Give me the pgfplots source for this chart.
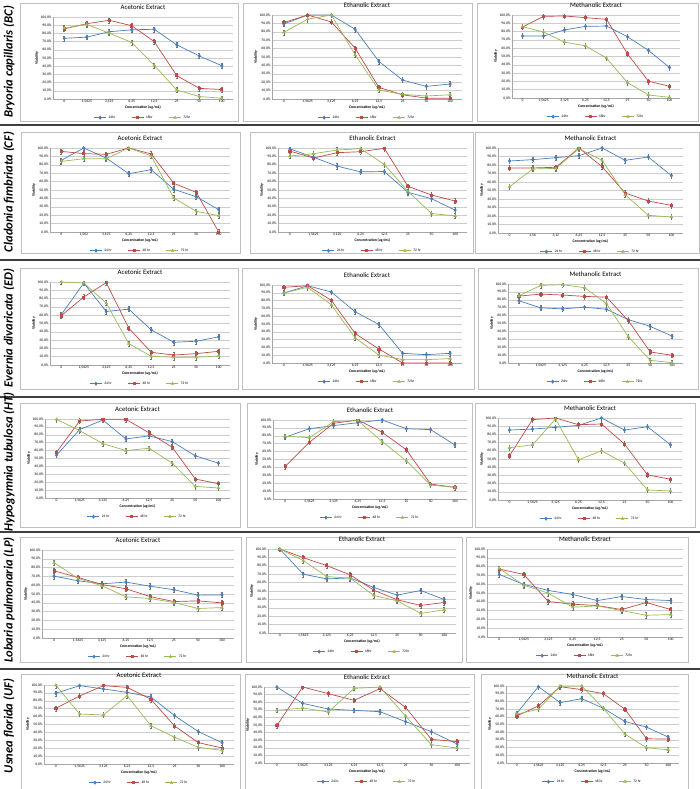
\documentclass[border=0pt]{standalone}
\usepackage{pgfplots}
\pgfplotsset{compat=1.18}
\usepackage{pgfplotstable}
\usepackage{fontspec}
\setmainfont{Carlito}
\definecolor{cA}{HTML}{4A7EBB}
\definecolor{cB}{HTML}{BE4B48}
\definecolor{cC}{HTML}{98B954}
\definecolor{frame}{HTML}{BFBFBF}
\definecolor{sep}{HTML}{3F3F3F}

% ---------- data (x index, 24 hr, 48 hr, 72 hr) ----------
\pgfplotstableread{
x a b c
0 74.0 85.6 86.5
1 75.4 91.8 91.0
2 82.0 96.0 80.3
3 84.4 89.3 69.0
4 85.0 70.0 41.0
5 66.0 28.5 11.0
6 52.5 13.0 3.0
7 40.6 11.5 1.0
}\BCa
\pgfplotstableread{
x a b c
0 89.3 91.0 79.4
1 100 100 95.0
2 100 91.7 100
3 83.0 60.5 52.6
4 44.7 13.8 10.7
5 22.5 5.0 5.5
6 15.0 1.0 3.6
7 17.8 0.8 5.0
}\BCb
\pgfplotstableread{
x a b c
0 74.6 85.5 86.0
1 74.6 98.4 79.4
2 82.0 98.8 67.3
3 86.3 96.8 62.9
4 86.7 94.8 48.0
5 73.8 53.2 18.5
6 57.3 20.2 3.6
7 36.7 14.1 0.8
}\BCc
\pgfplotstableread{
x a b c
0 85.3 96.0 84.0
1 100 93.3 87.3
2 88.0 92.5 87.3
3 69.4 100 100
4 74.2 92.9 90.5
5 50.8 58.0 40.5
6 42.0 47.2 24.6
7 26.6 0.0 19.4
}\CFa
\pgfplotstableread{
x a b c
0 99.0 96.4 90.4
1 89.0 88.0 93.2
2 78.4 94.4 97.6
3 71.6 95.6 99.2
4 72.0 99.6 80.4
5 47.2 54.4 48.4
6 39.6 44.0 22.0
7 26.0 36.8 19.2
}\CFb
\pgfplotstableread{
x a b c
0 84.7 76.5 54.5
1 86.3 76.5 75.3
2 88.6 77.3 76.0
3 91.0 100 99.2
4 100 78.0 85.5
5 85.5 47.0 45.0
6 89.4 37.6 20.8
7 67.5 32.5 18.8
}\CFc
\pgfplotstableread{
x a b c
0 60.5 59.3 100
1 98.8 81.9 98.8
2 64.5 99.2 74.6
3 67.3 44.4 25.8
4 42.3 15.3 10.5
5 27.4 12.0 9.3
6 28.6 13.7 9.3
7 33.9 16.5 10.9
}\EDa
\pgfplotstableread{
x a b c
0 89.7 97.0 89.7
1 99.0 99.1 97.0
2 91.0 80.3 74.7
3 65.7 37.8 32.2
4 49.4 18.0 10.3
5 12.4 0.0 4.3
6 10.7 0.0 4.3
7 12.4 0.0 5.6
}\EDb
\pgfplotstableread{
x a b c
0 78.7 84.7 85.1
1 69.8 87.2 98.3
2 68.5 86.0 99.1
3 70.6 84.3 95.3
4 68.0 83.4 75.3
5 54.9 53.6 33.2
6 46.4 14.0 3.4
7 34.0 9.8 0.4
}\EDc
\pgfplotstableread{
x a b c
0 54.2 58.0 99.6
1 86.6 97.5 85.3
2 98.7 99.6 68.9
3 74.8 99.6 60.0
4 78.6 82.4 63.0
5 71.4 64.3 44.1
6 53.4 24.0 14.7
7 44.1 18.1 12.6
}\HTa
\pgfplotstableread{
x a b c
0 78.2 41.2 79.4
1 89.0 71.8 77.7
2 92.9 95.8 97.9
3 96.6 100 99.2
4 100 84.5 72.7
5 89.0 62.2 48.3
6 87.8 18.9 17.6
7 68.5 14.7 14.7
}\HTb
\pgfplotstableread{
x a b c
0 85.3 53.9 63.7
1 86.5 98.0 67.3
2 88.6 100 98.8
3 91.0 91.8 49.0
4 100 92.7 60.0
5 85.3 68.2 44.9
6 89.4 30.6 12.2
7 67.3 25.3 11.0
}\HTc
\pgfplotstableread{
x a b c
0 70.3 76.4 85.6
1 65.0 68.8 67.7
2 61.6 60.8 59.3
3 63.5 55.9 46.8
4 58.9 47.1 44.9
5 54.8 41.4 40.3
6 48.7 42.2 33.5
7 49.0 39.9 34.6
}\LPa
\pgfplotstableread{
x a b c
0 100 100 100
1 70.0 89.7 86.2
2 64.4 80.2 67.2
3 65.6 69.2 65.2
4 54.2 51.0 44.7
5 45.1 39.5 38.3
6 50.6 32.8 23.3
7 39.9 36.4 27.7
}\LPb
\pgfplotstableread{
x a b c
0 71.1 77.2 77.9
1 59.7 71.1 58.9
2 52.9 40.3 49.8
3 48.3 37.3 33.8
4 41.4 35.7 35.4
5 46.0 31.2 30.0
6 42.6 39.2 24.7
7 41.4 31.2 25.5
}\LPc
\pgfplotstableread{
x a b c
0 89.5 70.5 99.6
1 99.2 86.1 63.3
2 95.0 99.2 62.0
3 90.7 97.0 86.5
4 84.8 81.9 48.5
5 61.2 48.1 33.8
6 40.9 27.0 21.1
7 27.0 20.3 17.3
}\UFa
\pgfplotstableread{
x a b c
0 100 49.1 69.3
1 78.5 100 72.4
2 71.0 91.2 67.1
3 69.3 82.5 98.2
4 67.5 97.8 100
5 54.4 73.2 61.8
6 41.2 31.1 24.1
7 25.0 28.1 19.7
}\UFb
\pgfplotstableread{
x a b c
0 64.7 61.2 63.4
1 99.1 74.1 69.8
2 78.4 99.1 100
3 83.6 95.3 100
4 71.1 90.1 71.1
5 53.9 69.8 37.5
6 46.6 31.5 19.8
7 33.6 31.0 17.2
}\UFc

\pgfplotsset{
  XA/.style={xticklabels={0,{1,5625},{3,125},{6,25},{12,5},25,50,100}},
  XB/.style={xticklabels={0,{1,562},{3,125},{6,25},{12,5},25,50,100}},
  XC/.style={xticklabels={0,{1,56},{3,12},{6,25},{12,5},25,50,100}},
  sA/.style={cA, mark=diamond*, mark size=1.5pt, mark options={solid},
    error bars/.cd, y dir=both, y fixed=3,
    error bar style={black!55, line width=0.3pt},
    error mark options={rotate=90, mark size=0.8pt, black!55, line width=0.3pt}},
  sB/.style={cB, mark=square*, mark size=1.1pt, mark options={solid},
    error bars/.cd, y dir=both, y fixed=3,
    error bar style={black!55, line width=0.3pt},
    error mark options={rotate=90, mark size=0.8pt, black!55, line width=0.3pt}},
  sC/.style={cC, mark=triangle*, mark size=1.4pt, mark options={solid},
    error bars/.cd, y dir=both, y fixed=3,
    error bar style={black!55, line width=0.3pt},
    error mark options={rotate=90, mark size=0.8pt, black!55, line width=0.3pt}},
  panel/.style={
    scale only axis,
    xmin=-0.5, xmax=7.5, ymin=0, ymax=100,
    xtick={0,...,7}, ytick={0,10,...,100},
    yticklabels={{0,0\%},{10,0\%},{20,0\%},{30,0\%},{40,0\%},{50,0\%},{60,0\%},{70,0\%},{80,0\%},{90,0\%},{100,0\%}},
    ymajorgrids, grid style={gray!40, line width=0.4pt},
    axis x line*=bottom, axis y line*=left,
    axis line style={gray!70, line width=0.4pt},
    major tick length=0pt,
    ticklabel style={font=\fontsize{3.7}{4}\selectfont, inner sep=1.2pt},
    title style={font=\fontsize{6.8}{7}\selectfont, at={(0.5,1)}, anchor=south, inner sep=1.2pt},
    xlabel={Concentration (ug/mL)}, ylabel={Viability},
    xlabel style={font=\fontsize{3.8}{4}\selectfont\bfseries, inner sep=0.8pt},
    ylabel style={font=\fontsize{3.8}{4}\selectfont\bfseries, inner sep=0.8pt},
    every axis plot/.append style={line width=0.7pt},
    legend columns=3,
    legend style={at={(0.5,0)}, anchor=north, yshift=-14.5bp, draw=none, fill=none,
      font=\fontsize{3.6}{4}\selectfont, inner sep=0pt,
      /tikz/every even column/.append style={column sep=14bp}},
    legend image code/.code={\draw[mark repeat=2, mark phase=2] plot coordinates {(0bp,0bp) (6bp,0bp) (12bp,0bp)};},
  }
}

\newcommand{\panel}[8]{%
  \pgfmathsetmacro\pw{#3-#1}%
  \pgfmathsetmacro\ph{#4-#2}%
  \pgfmathsetmacro\py{789-#2}%
  \begin{axis}[panel, #7, at={(#1bp,\py bp)}, anchor=north west, width=\pw bp, height=\ph bp,
      title={#5}]
    \addplot[sA] table[x=x,y=a]{#6};
    \addplot[sB] table[x=x,y=b]{#6};
    \addplot[sC] table[x=x,y=c]{#6};
    \legend{24#8,48#8,72#8}
  \end{axis}}

\newcommand{\pframe}[4]{\draw[frame, line width=0.6bp] (#1bp,{(789-#2)*1bp}) rectangle (#3bp,{(789-#4)*1bp});}
\newcommand{\rowlabel}[2]{\node[rotate=90, font=\fontsize{12.6}{13}\selectfont\bfseries\itshape, inner sep=0pt] at (9bp,{(789-#1)*1bp}) {#2};}

\begin{document}
\begin{tikzpicture}
\useasboundingbox[fill=white] (0,0) rectangle (700bp,789bp);
% row separators
\foreach \yy in {125,260,397,532,669} {\draw[sep, line width=2.5bp] (0,{(789-\yy)*1bp}) -- (700bp,{(789-\yy)*1bp});}
% frames
\pframe{20}{3}{238}{121}  \pframe{243}{3}{472}{121}  \pframe{477}{3}{698}{121}
\pframe{21}{132}{240}{253} \pframe{250}{132}{473}{253} \pframe{475}{132}{699}{253}
\pframe{20}{268}{238}{389} \pframe{242}{268}{474}{389} \pframe{478}{268}{698}{389}
\pframe{20}{403}{240}{527} \pframe{247}{403}{472}{527} \pframe{475}{403}{695}{527}
\pframe{20}{537}{241}{662} \pframe{246}{537}{462}{662} \pframe{466}{537}{688}{662}
\pframe{21}{674}{240}{789} \pframe{245}{674}{474}{789} \pframe{481}{674}{688}{789}

\rowlabel{62}{Bryoria capillaris (BC)}
\rowlabel{192}{Cladonia fimbriata (CF)}
\rowlabel{328}{Evernia divaricata (ED)}
\rowlabel{462}{Hypogymnia tubulosa (HT)}
\rowlabel{600}{Lobaria pulmonaria (LP)}
\rowlabel{726}{Usnea florida (UF)}

% row 1
\panel{53}{17}{233}{99}{Acetonic Extract}{\BCa}{XA}{hr}
\panel{272}{15}{462}{99}{Ethanolic Extract}{\BCb}{XA}{hr}
\panel{512}{15}{680}{98}{Methanolic Extract}{\BCc}{XA}{hr}
% row 2
\panel{50}{148}{230}{232}{Acetonic Extract}{\CFa}{XB}{ hr}
\panel{278}{148}{467}{232}{Ethanolic Extract}{\CFb}{XA}{ hr}
\panel{498}{148}{683}{233}{Methanolic Extract}{\CFc}{XC}{ hr}
% row 3
\panel{50}{282}{230}{365}{Acetonic Extract}{\EDa}{XA}{ hr}
\panel{272}{285}{462}{363}{Ethanolic Extract}{\EDb}{XA}{hr}
\panel{508}{284}{683}{363}{Methanolic Extract}{\EDc}{XA}{hr}
% row 4
\panel{45}{419}{230}{498}{Acetonic Extract}{\HTa}{XA}{ hr}
\panel{273}{420}{467}{499}{Ethanolic Extract}{\HTb}{XA}{ hr}
\panel{498}{418}{682}{500}{Methanolic Extract}{\HTc}{XA}{ hr}
% row 5
\panel{42}{550}{234}{638}{Acetonic Extract}{\LPa}{XA}{ hr}
\panel{268}{549}{456}{633}{Ethanolic Extract}{\LPb}{XA}{hr}
\panel{487}{549}{683}{637}{Methanolic Extract}{\LPc}{XA}{hr}
% row 6
\panel{44}{685}{234}{764}{Acetonic Extract}{\UFa}{XA}{ hr}
\panel{264}{687}{470}{763}{Ethanolic Extract}{\UFb}{XA}{ hr}
\panel{506}{686}{679}{763}{Methanolic Extract}{\UFc}{XA}{ hr}
\end{tikzpicture}
\end{document}
